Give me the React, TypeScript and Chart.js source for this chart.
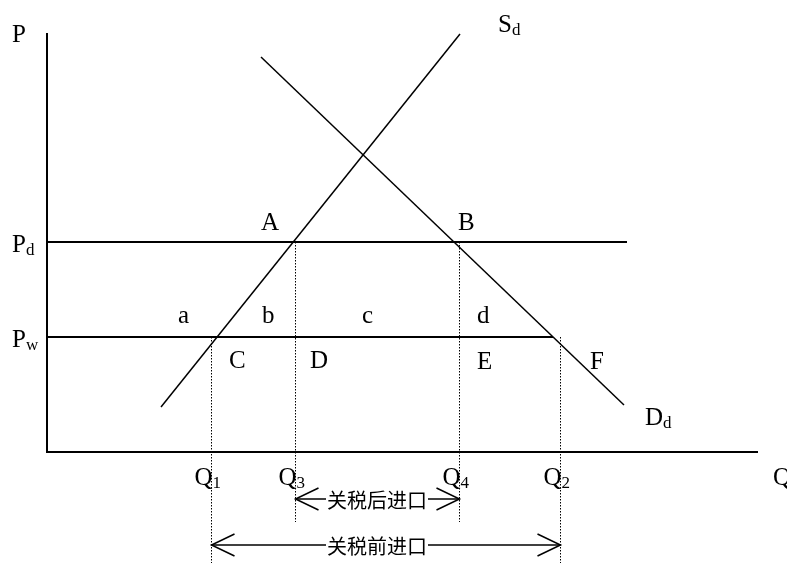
import React, { useEffect, useRef } from 'react';
import { Chart, registerables } from 'chart.js';

Chart.register(...registerables);

// Quantities on the horizontal axis (Q1, Q3, Q4, Q2)
const quantitySubs = ['1', '3', '4', '2'];
const quantityValues = [16.45, 24.85, 41.25, 51.35];
// Prices on the vertical axis (Pd, Pw)
const priceSubs = ['d', 'w'];
const priceValues = [21.0, 11.5];
const priceLineEnds = [58.0, 50.6];
// Domestic supply and demand curves (end points)
const supplyQ = [11.4, 41.3];
const supplyP = [4.5, 41.8];
const demandQ = [21.4, 57.7];
const demandP = [39.5, 4.7];
// Axis extents
const axisQMax = 71.1;
const axisPMax = 41.9;
// Dotted drop lines: which price each starts from (index into priceValues) and where it ends
const dropFromPrice = [1, 0, 0, 1];
const dropBottoms = [-11.1, -7.0, -7.0, -11.1];
// Import range arrows
const importTexts = ['关税后进口', '关税前进口'];
const importFromIdx = [1, 0];
const importToIdx = [2, 3];
const importLevels = [-4.7, -9.3];
const importTextQ = [33.0, 33.0];
// Point / area labels
const pointLabels = ['A', 'B', 'a', 'b', 'c', 'd', 'C', 'D', 'E', 'F'];
const pointLabelQ = [21.4, 41.1, 13.1, 21.5, 31.5, 43.0, 18.2, 26.3, 43.0, 54.3];
const pointLabelP = [22.2, 22.2, 12.9, 12.9, 12.9, 12.9, 8.4, 8.4, 8.3, 8.3];
// Curve / axis labels with subscripts
const namedLabels = ['S', 'D', 'P', 'Q'];
const namedSubs = ['d', 'd', '', ''];
const namedQ = [45.1, 59.8, -3.5, 72.6];
const namedP = [42.0, 2.7, 41.0, -3.3];

const SERIF = '"Liberation Serif", "Times New Roman", serif';
const CJK = '"Noto Sans CJK SC", sans-serif';

function seg(data: { x: number; y: number }[], width: number, dash: number[] = []) {
  return {
    type: 'line' as const,
    data,
    borderColor: '#000',
    backgroundColor: '#000',
    borderWidth: width,
    borderDash: dash,
    borderJoinStyle: 'miter' as const,
    borderCapStyle: 'butt' as const,
    pointRadius: 0,
    pointHoverRadius: 0,
    showLine: true,
    fill: false,
    tension: 0,
  };
}

const textPlugin = {
  id: 'diagramText',
  afterDatasetsDraw(chart: any) {
    const ctx = chart.ctx as CanvasRenderingContext2D;
    const xs = chart.scales.x;
    const ys = chart.scales.y;
    const px = (v: number) => xs.getPixelForValue(v);
    const py = (v: number) => ys.getPixelForValue(v);
    ctx.save();
    ctx.fillStyle = '#000';
    ctx.strokeStyle = '#000';
    ctx.textAlign = 'left';
    ctx.textBaseline = 'alphabetic';

    const withSub = (main: string, sub: string, x: number, y: number) => {
      ctx.font = `25px ${SERIF}`;
      ctx.fillText(main, x, y);
      const w = ctx.measureText(main).width;
      if (sub) {
        ctx.font = `17px ${SERIF}`;
        ctx.fillText(sub, x + w, y + 3);
      }
    };

    // Point labels
    pointLabels.forEach((t, i) => {
      ctx.font = `25px ${SERIF}`;
      ctx.fillText(t, px(pointLabelQ[i]), py(pointLabelP[i]));
    });

    // Curve / axis names
    namedLabels.forEach((t, i) => withSub(t, namedSubs[i], px(namedQ[i]), py(namedP[i])));

    // Price tick labels
    priceValues.forEach((v, i) => withSub('P', priceSubs[i], 12, py(v) + 10));

    // Quantity tick labels
    quantityValues.forEach((v, i) => withSub('Q', quantitySubs[i], px(v) - 17, py(0) + 33));

    // Import arrows: heads + text
    ctx.lineWidth = 1.5;
    importTexts.forEach((t, i) => {
      const y = py(importLevels[i]);
      const x0 = px(quantityValues[importFromIdx[i]]);
      const x1 = px(quantityValues[importToIdx[i]]);
      ctx.beginPath();
      ctx.moveTo(x0 + 23, y - 11);
      ctx.lineTo(x0, y);
      ctx.lineTo(x0 + 23, y + 11);
      ctx.moveTo(x1 - 23, y - 11);
      ctx.lineTo(x1, y);
      ctx.lineTo(x1 - 23, y + 11);
      ctx.stroke();

      ctx.font = `20px ${CJK}`;
      const w = ctx.measureText(t).width;
      const cx = px(importTextQ[i]);
      ctx.fillStyle = '#fff';
      ctx.fillRect(cx - w / 2 - 1, y - 11, w + 2, 22);
      ctx.fillStyle = '#000';
      ctx.textAlign = 'center';
      ctx.textBaseline = 'middle';
      ctx.fillText(t, cx, y + 1);
      ctx.textAlign = 'left';
      ctx.textBaseline = 'alphabetic';
    });
    ctx.restore();
  },
};

export default function App() {
  const ref = useRef<HTMLCanvasElement | null>(null);

  useEffect(() => {
    if (!ref.current) return;
    const datasets: any[] = [];
    // Axes
    datasets.push(seg([{ x: 0, y: axisPMax }, { x: 0, y: 0 }, { x: axisQMax, y: 0 }], 2));
    // Price lines
    priceValues.forEach((p, i) => datasets.push(seg([{ x: 0, y: p }, { x: priceLineEnds[i], y: p }], 2)));
    // Supply & demand
    datasets.push(seg(supplyQ.map((q, i) => ({ x: q, y: supplyP[i] })), 1.5));
    datasets.push(seg(demandQ.map((q, i) => ({ x: q, y: demandP[i] })), 1.5));
    // Dotted drop lines
    quantityValues.forEach((q, i) =>
      datasets.push(seg([{ x: q, y: priceValues[dropFromPrice[i]] }, { x: q, y: dropBottoms[i] }], 1, [1.5, 1.5]))
    );
    // Import range lines
    importLevels.forEach((lv, i) =>
      datasets.push(
        seg([
          { x: quantityValues[importFromIdx[i]], y: lv },
          { x: quantityValues[importToIdx[i]], y: lv },
        ], 1.5)
      )
    );

    const chart = new Chart(ref.current, {
      type: 'scatter',
      data: { datasets },
      options: {
        animation: false,
        responsive: false,
        devicePixelRatio: 1,
        layout: { padding: 0 },
        events: [],
        plugins: { legend: { display: false }, tooltip: { enabled: false }, title: { display: false } },
        scales: {
          x: { type: 'linear', min: -4.7, max: 74.0, display: false },
          y: { type: 'linear', min: -11.1, max: 45.2, display: false },
        },
      },
      plugins: [textPlugin],
    });
    return () => chart.destroy();
  }, []);

  return (
    <div style={{ position: 'fixed', left: 0, top: 0, width: 787, height: 563, background: '#fff' }}>
      <canvas ref={ref} width={787} height={563} />
    </div>
  );
}
